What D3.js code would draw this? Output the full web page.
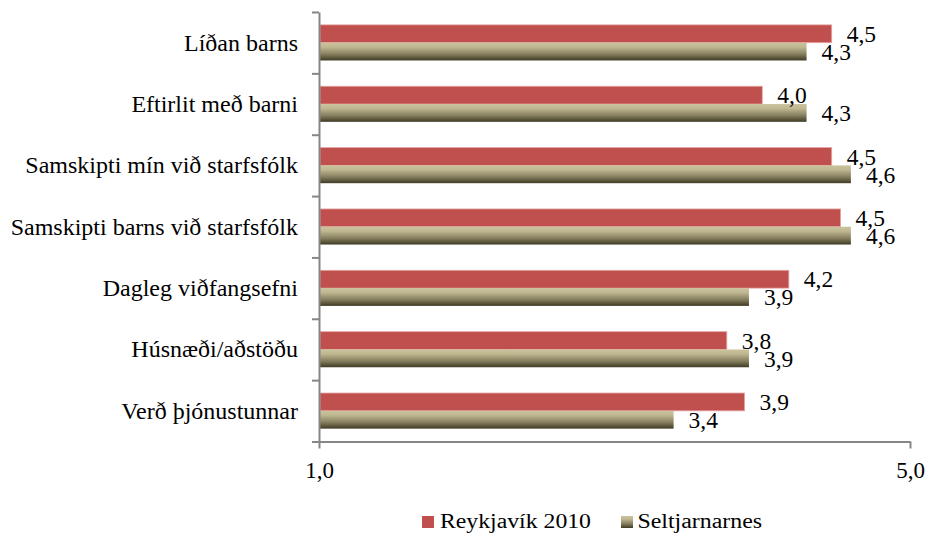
<!DOCTYPE html>
<html>
<head>
<meta charset="utf-8">
<script src="https://cdn.jsdelivr.net/npm/d3@7/dist/d3.min.js"></script>
<style>
  html, body { margin: 0; padding: 0; background: #fff; }
  svg { display: block; }
</style>
</head>
<body>
<svg id="chart" width="930" height="537"></svg>
<script>
// Categories, top to bottom
const categories = [
  "Líðan barns",
  "Eftirlit með barni",
  "Samskipti mín við starfsfólk",
  "Samskipti barns við starfsfólk",
  "Dagleg viðfangsefni",
  "Húsnæði/aðstöðu",
  "Verð þjónustunnar"
];
const seriesNames = ["Reykjavík 2010", "Seltjarnarnes"];
const reykjavik = [4.47, 4.00, 4.47, 4.53, 4.18, 3.76, 3.88];
const seltjarnarnes = [4.30, 4.30, 4.60, 4.60, 3.91, 3.91, 3.40];
const xTicks = [1, 5];

const FONT = "Liberation Serif, Times New Roman, DejaVu Serif, serif";

const svg = d3.select("#chart").attr("font-family", FONT);
const plotLeft = 319, plotRight = 910, plotTop = 12, plotBottom = 441.5;

// Icelandic number formatting (decimal comma)
const locale = d3.formatLocale({ decimal: ",", thousands: ".", grouping: [3], currency: ["", " kr."] });
const fmt = locale.format(".1f");

const x = d3.scaleLinear().domain([1, 5]).range([plotLeft, plotRight]);
const y = d3.scaleBand().domain(categories).range([plotTop, plotBottom])
  .paddingInner(0.42).paddingOuter(0.21);
const ySub = d3.scaleBand().domain(seriesNames).range([0, y.bandwidth()]);

// Gradient for the second series
const defs = svg.append("defs");
const grad = defs.append("linearGradient").attr("id", "oliveGrad")
  .attr("x1", 0).attr("y1", 0).attr("x2", 0).attr("y2", 1);
grad.append("stop").attr("offset", "0%").attr("stop-color", "#CBC39F");
grad.append("stop").attr("offset", "25%").attr("stop-color", "#BFB790");
grad.append("stop").attr("offset", "65%").attr("stop-color", "#857E5E");
grad.append("stop").attr("offset", "100%").attr("stop-color", "#3F3A24");

const series = [
  { name: seriesNames[0], values: reykjavik, fill: "#C0504D", stroke: "#E3A3A1" },
  { name: seriesNames[1], values: seltjarnarnes, fill: "url(#oliveGrad)", stroke: "none" }
];

// Bars
series.forEach(s => {
  const g = svg.append("g");
  g.selectAll("rect").data(categories).join("rect")
    .attr("x", x(1) + 1)
    .attr("y", (c) => y(c) + ySub(s.name))
    .attr("width", (c, i) => x(s.values[i]) - x(1) - 1)
    .attr("height", ySub.bandwidth())
    .attr("fill", s.fill)
    .attr("stroke", s.stroke)
    .attr("stroke-width", s.stroke === "none" ? 0 : 0.8);
});

// Value labels
series.forEach(s => {
  svg.append("g").selectAll("text").data(categories).join("text")
    .attr("x", (c, i) => x(s.values[i]) + 15)
    .attr("y", (c) => y(c) + ySub(s.name) + ySub.bandwidth() / 2)
    .attr("dy", "0.35em")
    .attr("font-family", FONT)
    .attr("font-size", 23.5)
    .attr("fill", "#000")
    .text((c, i) => fmt(s.values[i]));
});

// Vertical axis with ticks at category boundaries
const yEdges = d3.scaleLinear().domain([0, categories.length]).range([plotTop, plotBottom]);
const yAxis = svg.append("g").attr("transform", `translate(${plotLeft},0)`)
  .call(d3.axisLeft(yEdges).tickValues(d3.range(categories.length + 1)).tickSize(7).tickSizeOuter(0).tickFormat(""));
yAxis.select(".domain").attr("stroke", "#868686").attr("stroke-width", 2);
yAxis.selectAll(".tick line").attr("stroke", "#868686").attr("stroke-width", 2);

// Category labels
svg.append("g").selectAll("text").data(categories).join("text")
  .attr("x", 298)
  .attr("y", (c) => y(c) + y.bandwidth() / 2)
  .attr("dy", "0.33em")
  .attr("text-anchor", "end")
  .attr("font-family", FONT)
  .attr("font-size", 24)
  .attr("fill", "#000")
  .text(d => d);

// Horizontal axis
const xAxis = svg.append("g").attr("transform", `translate(0,${plotBottom})`)
  .call(d3.axisBottom(x).tickValues(xTicks).tickSize(7).tickSizeOuter(0).tickPadding(13).tickFormat(fmt));
xAxis.attr("font-family", FONT).attr("font-size", 23);
xAxis.select(".domain").attr("stroke", "#868686").attr("stroke-width", 2);
xAxis.selectAll(".tick line").attr("stroke", "#868686").attr("stroke-width", 2);
xAxis.selectAll(".tick text").attr("fill", "#000");

// Legend
const legendItems = [
  { name: seriesNames[0], fill: "#C0504D", sx: 422, tx: 440, width: 151 },
  { name: seriesNames[1], fill: "url(#oliveGrad)", sx: 621, tx: 637.5, width: 124.5 }
];
const lg = svg.append("g");
legendItems.forEach(it => {
  lg.append("rect").attr("x", it.sx).attr("y", 516).attr("width", 12).attr("height", 12).attr("fill", it.fill);
  lg.append("text").attr("x", it.tx).attr("y", 528.3)
    .attr("font-family", FONT)
    .attr("font-size", 20)
    .attr("fill", "#000")
    .attr("textLength", it.width)
    .attr("lengthAdjust", "spacingAndGlyphs")
    .text(it.name);
});
</script>
</body>
</html>
